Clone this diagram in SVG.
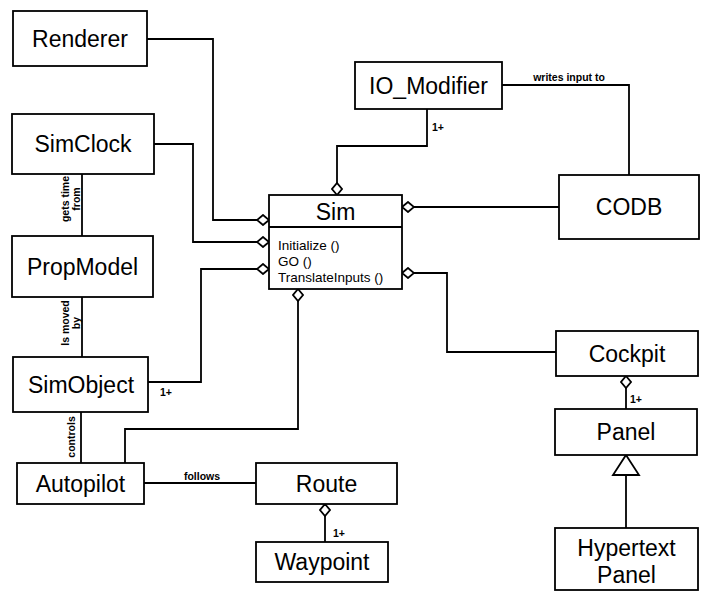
<svg xmlns="http://www.w3.org/2000/svg" width="703" height="592" viewBox="0 0 703 592">
<style>
.box{fill:#fff;stroke:#000;stroke-width:1.8}
.name{font-family:"Liberation Sans",Arial,sans-serif;font-size:23px;text-anchor:middle;fill:#000}
.meth{font-family:"Liberation Sans",Arial,sans-serif;font-size:13.5px;fill:#000}
.lbl{font-family:"Liberation Sans",Arial,sans-serif;font-size:10.5px;font-weight:bold;fill:#000}
.c{fill:none;stroke:#000;stroke-width:1.8}
.agg{marker-start:url(#diamond)}
</style>
<defs>
<marker id="diamond" markerUnits="userSpaceOnUse" markerWidth="14" markerHeight="12" refX="1" refY="6" orient="auto" viewBox="0 0 14 12">
<path d="M1,6 L7,1 L13,6 L7,11 Z" fill="#fff" stroke="#000" stroke-width="1.8"/>
</marker>
</defs>
<g id="connectors">
<path class="c agg" d="M269,220 H213 V39 H147"/>
<path class="c agg" d="M269,242 H193 V144 H154"/>
<path class="c agg" d="M269,269 H201 V382 H148"/>
<path class="c agg" d="M337,195 V146 H427 V109"/>
<path class="c agg" d="M402,207 H559"/>
<path class="c agg" d="M402,273 H447 V352 H556"/>
<path class="c agg" d="M298,289 V429 H125 V463"/>
<path class="c" d="M82,174 V236"/>
<path class="c" d="M82,297 V357"/>
<path class="c" d="M81,412 V463"/>
<path class="c" d="M144,483 H256"/>
<path class="c agg" d="M325,504 V542"/>
<path class="c" d="M502,85 H629 V175"/>
<path class="c agg" d="M626,376 V409"/>
<path class="c" d="M626,475 V528"/>
<polygon points="626,455 639,475 613,475" fill="#fff" stroke="#000" stroke-width="1.8"/>
<text class="lbl" x="569" y="81" text-anchor="middle">writes input to</text>
<text class="lbl" x="202" y="480" text-anchor="middle">follows</text>
<text class="lbl" x="432" y="131">1+</text>
<text class="lbl" x="160" y="396">1+</text>
<text class="lbl" x="333" y="537">1+</text>
<text class="lbl" x="630" y="403">1+</text>
<text class="lbl" transform="translate(69,199) rotate(-90)" text-anchor="middle">gets time</text>
<text class="lbl" transform="translate(80,199) rotate(-90)" text-anchor="middle">from</text>
<text class="lbl" transform="translate(69,323) rotate(-90)" text-anchor="middle">Is moved</text>
<text class="lbl" transform="translate(80,323) rotate(-90)" text-anchor="middle">by</text>
<text class="lbl" transform="translate(75,437) rotate(-90)" text-anchor="middle">controls</text>
</g>
<g id="Renderer"><rect class="box" x="13" y="11" width="134" height="55"/><text class="name" x="80" y="47">Renderer</text></g>
<g id="SimClock"><rect class="box" x="12" y="114" width="142" height="60"/><text class="name" x="83" y="152">SimClock</text></g>
<g id="PropModel"><rect class="box" x="12" y="236" width="141" height="61"/><text class="name" x="82.5" y="275">PropModel</text></g>
<g id="SimObject"><rect class="box" x="13" y="357" width="135" height="55"/><text class="name" x="81" y="393">SimObject</text></g>
<g id="Autopilot"><rect class="box" x="17" y="463" width="127" height="41"/><text class="name" x="80.5" y="492">Autopilot</text></g>
<g id="Route"><rect class="box" x="256" y="463" width="141" height="41"/><text class="name" x="326.5" y="492">Route</text></g>
<g id="Waypoint"><rect class="box" x="256" y="542" width="132" height="40"/><text class="name" x="322" y="570">Waypoint</text></g>
<g id="IO_Modifier"><rect class="box" x="355" y="62" width="147" height="47"/><text class="name" x="428.5" y="94">IO_Modifier</text></g>
<g id="CODB"><rect class="box" x="559" y="175" width="140" height="64"/><text class="name" x="629" y="215">CODB</text></g>
<g id="Sim">
<rect class="box" x="269" y="195" width="133" height="94"/>
<line x1="269" y1="227" x2="402" y2="227" stroke="#000" stroke-width="1.8"/>
<text class="name" x="335.5" y="220">Sim</text>
<text class="meth" x="278" y="250">Initialize ()</text>
<text class="meth" x="278" y="266">GO ()</text>
<text class="meth" x="278" y="282">TranslateInputs ()</text>
</g>
<g id="Cockpit"><rect class="box" x="556" y="331" width="142" height="45"/><text class="name" x="627" y="362">Cockpit</text></g>
<g id="Panel"><rect class="box" x="555" y="409" width="142" height="46"/><text class="name" x="626" y="440">Panel</text></g>
<g id="HypertextPanel"><rect class="box" x="555" y="528" width="143" height="62"/><text class="name" x="626.5" y="556">Hypertext</text><text class="name" x="626.5" y="583">Panel</text></g>
</svg>
